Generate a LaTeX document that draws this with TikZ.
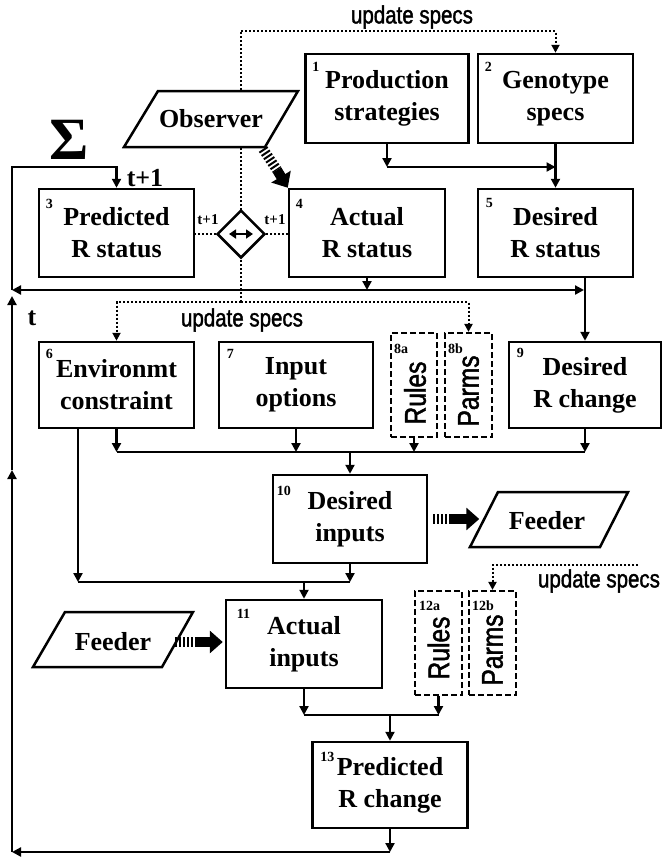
\documentclass[tikz,border=0pt]{standalone}
\usepackage{fontspec}
\setmainfont{Liberation Serif}
\setsansfont{Liberation Sans}
\newfontfamily\narrowsf[FakeStretch=0.82,FakeBold=1.5]{Liberation Sans}
\usetikzlibrary{arrows.meta,shapes.geometric}
\begin{document}
\begin{tikzpicture}[x=1pt,y=-1pt,
  bx/.style={draw, line width=2.5pt, fill=white, align=center, inner sep=0pt,
    font=\bfseries\fontsize{26}{32}\selectfont},
  dbx/.style={draw, line width=2.2pt, dash pattern=on 6pt off 3pt, inner sep=0pt},
  num/.style={font=\bfseries\fontsize{14}{14}\selectfont, inner sep=0pt, anchor=north west},
  con/.style={line width=2.2pt, -{Triangle[length=9pt,width=9pt]}},
  ln/.style={line width=2.2pt},
  dotl/.style={line width=2pt, dash pattern=on 2pt off 2pt},
  dotarr/.style={dotl, -{Triangle[length=8pt,width=8pt]}},
  spec/.style={font=\narrowsf\fontsize{25}{25}\selectfont, inner sep=0pt},
  vtext/.style={font=\narrowsf\fontsize{30}{30}\selectfont, rotate=90, inner sep=0pt},
  tbig/.style={font=\bfseries\fontsize{26}{26}\selectfont, inner sep=0pt},
  tsmall/.style={font=\bfseries\fontsize{15}{15}\selectfont, inner sep=0pt},
  stripes/.style={line width=10pt, dash pattern=on 2pt off 2pt},
  fat/.style={line width=10pt, -{Triangle[length=13pt,width=22pt]}},
  para/.style={line width=2.5pt, fill=white, line join=miter},
  ptext/.style={font=\bfseries\fontsize{26}{26}\selectfont, inner sep=0pt}
]
\useasboundingbox (0,0) rectangle (662,860);

% ---- boxes
\node[bx, minimum width=163pt, minimum height=89pt] (b1) at (387,98.5) {Production\\strategies};
\node[bx, minimum width=155pt, minimum height=89pt] (b2) at (555.5,98.5) {Genotype\\specs};
\node[bx, minimum width=155pt, minimum height=88pt] (b3) at (116.5,233) {Predicted\\R status};
\node[bx, minimum width=156pt, minimum height=88pt] (b4) at (367,233) {Actual\\R status};
\node[bx, minimum width=155pt, minimum height=88pt] (b5) at (555.5,233) {Desired\\R status};
\node[bx, minimum width=155pt, minimum height=86pt] (b6) at (116.5,385) {Environmt\\constraint};
\node[bx, minimum width=154pt, minimum height=86pt] (b7) at (296,385) {Input\\options};
\node[dbx, minimum width=46pt, minimum height=104pt] (b8a) at (414,385) {};
\node[dbx, minimum width=47pt, minimum height=104pt] (b8b) at (468.5,385) {};
\node[bx, minimum width=152pt, minimum height=86pt] (b9) at (585,385) {Desired\\R change};
\node[bx, minimum width=154pt, minimum height=88pt] (b10) at (350,519) {Desired\\inputs};
\node[bx, minimum width=156pt, minimum height=88pt] (b11) at (304,644) {Actual\\inputs};
\node[dbx, minimum width=47pt, minimum height=104pt] (b12a) at (438.5,643) {};
\node[dbx, minimum width=47pt, minimum height=104pt] (b12b) at (492.5,643) {};
\node[bx, minimum width=155pt, minimum height=86pt] (b13) at (390,785) {Predicted\\R change};

% ---- numbers
\node[num] (n1) at ([shift={(8,9)}]b1.north west) {1};
\node[num] (n2) at ([shift={(8,9)}]b2.north west) {2};
\node[num] (n3) at ([shift={(8,11)}]b3.north west) {3};
\node[num] (n4) at ([shift={(8,11)}]b4.north west) {4};
\node[num] (n5) at ([shift={(9,10)}]b5.north west) {5};
\node[num] (n6) at ([shift={(8,8)}]b6.north west) {6};
\node[num] (n7) at ([shift={(9,8)}]b7.north west) {7};
\node[num] (n8a) at ([shift={(4,12)}]b8a.north west) {8a};
\node[num] (n8b) at ([shift={(4,12)}]b8b.north west) {8b};
\node[num] (n9) at ([shift={(9,7)}]b9.north west) {9};
\node[num] (n10) at ([shift={(5,12)}]b10.north west) {10};
\node[num] (n11) at ([shift={(12,10)}]b11.north west) {11};
\node[num] (n12a) at ([shift={(5,11)}]b12a.north west) {12a};
\node[num] (n12b) at ([shift={(4,11)}]b12b.north west) {12b};
\node[num] (n13) at ([shift={(9,11)}]b13.north west) {13};

% ---- rotated texts
\node[vtext] (r8a) at ([shift={(1,8)}]b8a.center) {Rules};
\node[vtext] (p8b) at ([shift={(0,6)}]b8b.center) {Parms};
\node[vtext] (r12a) at ([shift={(0,5)}]b12a.center) {Rules};
\node[vtext] (p12b) at ([shift={(0,7)}]b12b.center) {Parms};

% ---- coordinates
\coordinate (top) at (241,31);
\coordinate (hub) at (241,302);
\coordinate (u3) at (638,565);
\coordinate (j1) at (387,167);
\coordinate (L1) at (12,167);
\coordinate (L2) at (12,290);
\coordinate (L3) at (12,470);
\coordinate (L4) at (12,852);
\coordinate (m2) at (350,452);
\coordinate (m3) at (78,582);
\coordinate (m4) at (390,715);

% ---- dotted update lines
\draw[dotl] (hub) -- (top);
\draw[dotarr] (top) -| (b2.north);
\draw[dotarr] (hub) -| (b6.north);
\draw[dotarr] (hub) -| (b8b.north);
\draw[dotarr] (u3) -| (b12b.north);

% ---- observer
\draw[para] (158,91) -- (298,91) -- (265,147) -- (124,147) -- cycle;
\node[ptext] (obs) at (211,119) {Observer};
\coordinate (obsc) at (263,149);
\coordinate (obsm) at (277,170);
\draw[stripes] (obsc) -- (obsm);
\draw[fat] (obsm) -- (b4.north west);

% ---- diamond
\node[diamond, draw, line width=2.5pt, fill=white, minimum width=48pt, minimum height=48pt, inner sep=0pt] (dia) at (241,234) {};
\draw[line width=2pt, {Triangle[length=7pt,width=9pt]}-{Triangle[length=7pt,width=9pt]}] ([xshift=-12pt]dia.center) -- ([xshift=12pt]dia.center);
\draw[dotl] (dia.west) -- (dia.west -| b3.east);
\draw[dotl] (dia.east) -- (dia.east -| b4.west);

% ---- feeders
\draw[para] (498,492) -- (628,492) -- (600,547) -- (470,547) -- cycle;
\node[ptext] (fd1) at (547,521) {Feeder};
\draw[para] (65,612) -- (193,612) -- (162,667) -- (33,667) -- cycle;
\node[ptext] (fd2) at (113,642) {Feeder};
\draw[stripes] ([xshift=5pt]b10.east) -- ([xshift=21pt]b10.east);
\draw[fat] ([xshift=21pt]b10.east) -- ([xshift=51pt]b10.east);
\draw[stripes] ([shift={(-50,-2)}]b11.west) -- ([shift={(-30,-2)}]b11.west);
\draw[fat] ([shift={(-30,-2)}]b11.west) -- ([shift={(-2,-2)}]b11.west);

% ---- top connectors
\draw[con] (b1.south) -- (j1);
\draw[con] (j1) -- (j1 -| b2.south);
\draw[con] (b2.south) -- (b5.north);

% ---- status line
\draw[con] (b4.south) -- (b4.south |- L2);
\draw[con] (b4.south |- L2) -- (L2);
\draw[con] (b4.south |- L2) -- ([xshift=-1pt]L2 -| b9.north);
\draw[con] (b9.north |- b5.south) -- (b9.north);

% ---- row 2
\draw[con] (b6.south) -- (b6.south |- m2);
\draw[con] (b7.south) -- (b7.south |- m2);
\draw[con] (b8a.south) -- (b8a.south |- m2);
\draw[con] (b9.south) -- (b9.south |- m2);
\draw[ln] (b6.south |- m2) -- (b9.south |- m2);
\draw[con] (m2) -- (b10.north);

% ---- row 3
\draw[con] (b6.south west -| m3) -- (m3);
\draw[ln] (m3) -- (m3 -| b10.south);
\draw[con] (b10.south) -- (b10.south |- m3);
\draw[con] (m3 -| b11.north) -- (b11.north);

% ---- row 4
\draw[con] (b11.south) -- (b11.south |- m4);
\draw[con] (b12a.south) -- (b12a.south |- m4);
\draw[ln] (b11.south |- m4) -- (b12a.south |- m4);
\draw[con] (m4) -- (b13.north);

% ---- outer loop
\draw[con] (b13.south) -- (b13.south |- L4);
\draw[con] (b13.south |- L4) -- (L4);
\draw[con] (L4) -- (L3);
\draw[con, shorten >=6pt] (L3) -- (L2);
\draw[con] (L2) -- (L1) -| (b3.north);

% ---- labels
\node[spec] (us1) at (412,17) {update specs};
\node[spec] (us2) at (242,320) {update specs};
\node[spec] (us3) at (599,581) {update specs};
\node[font=\bfseries\fontsize{60}{60}\selectfont, inner sep=0pt] (sig) at (69,140) {Σ};
\node[tbig] (tp1) at (145,178) {t+1};
\node[tsmall] (tl) at (208,220) {t+1};
\node[tsmall] (tr) at (275,220) {t+1};
\node[tbig] (tt) at (32,318) {t};
\end{tikzpicture}
\end{document}
